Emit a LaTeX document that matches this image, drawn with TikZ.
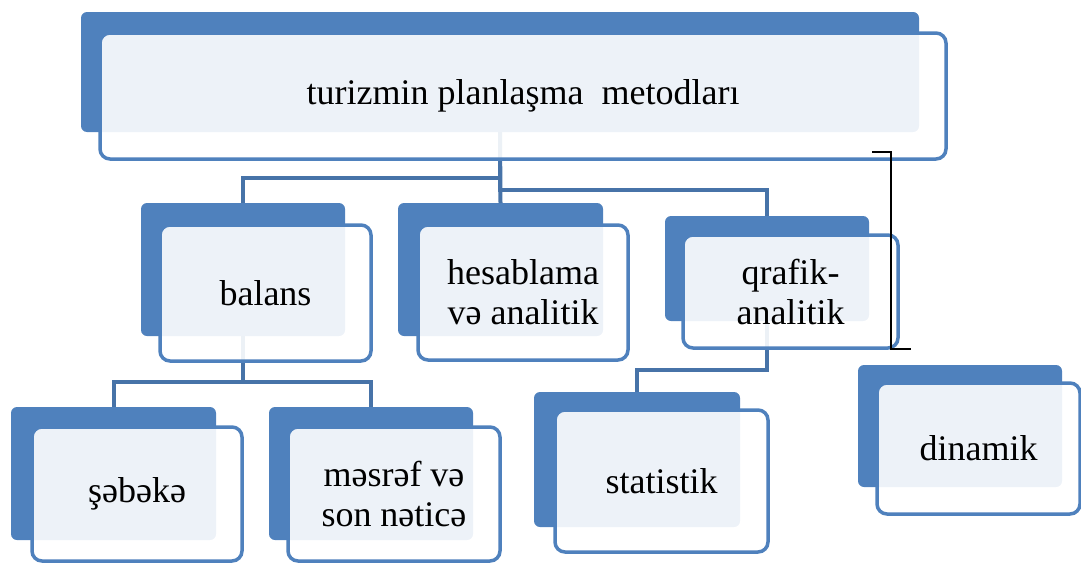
\documentclass[tikz,border=0pt]{standalone}
\usepackage{fontspec}
\setmainfont{Liberation Serif}
\definecolor{accblue}{HTML}{4F81BD}
\definecolor{connblue}{HTML}{4773A8}
\tikzset{
  backbox/.style={rectangle, rounded corners=6pt, fill=accblue, draw=none, inner sep=0pt, outer sep=0pt},
  frontbox/.style={rectangle, rounded corners=10pt, draw=accblue, line width=3.5pt, fill=white, fill opacity=0.9, text opacity=1, inner sep=0pt, outer sep=0pt, align=center, font=\fontsize{36}{40}\selectfont},
  conn/.style={draw=connblue, line width=4pt},
  brk/.style={draw=black, line width=1.5pt}
}
\begin{document}
\begin{tikzpicture}[x=1pt,y=-1pt]
\useasboundingbox (0,0) rectangle (1081,562);
% back rectangles
\node[backbox, minimum width=838pt, minimum height=120pt] (b0) at (500,72) {};
\node[backbox, minimum width=204pt, minimum height=133pt] (b1) at (243,269.5) {};
\node[backbox, minimum width=205pt, minimum height=133pt] (b2) at (500.5,269.5) {};
\node[backbox, minimum width=204pt, minimum height=105pt] (b3) at (767,268.5) {};
\node[backbox, minimum width=205pt, minimum height=133pt] (b4) at (113.5,473.5) {};
\node[backbox, minimum width=204pt, minimum height=133pt] (b5) at (371,473.5) {};
\node[backbox, minimum width=206pt, minimum height=135pt] (b6) at (637,459.5) {};
\node[backbox, minimum width=204pt, minimum height=122pt] (b7) at (960,426) {};
% connectors
\draw[conn] (b0.south) -- (b2.north);
\draw[conn] (b0.south) -- ++(0,46) -| (b1.north);
\draw[conn] (b0.south) -- ++(0,58) -| (b3.north);
\draw[conn] (b1.south) -- ++(0,46) -| (b4.north);
\draw[conn] (b1.south) -- ++(0,46) -| (b5.north);
\draw[conn] (b3.south) -- ++(0,49) -| (b6.north);
% front rectangles with text
\node[frontbox, minimum width=846pt, minimum height=126pt] (f0) at (523,96) {turizmin planlaşma\ \ metodları};
\node[frontbox, minimum width=211pt, minimum height=136pt] (f1) at (265.5,293) {balans};
\node[frontbox, minimum width=210pt, minimum height=135pt] (f2) at (523,292.5) {hesablama\\və analitik};
\node[frontbox, minimum width=215pt, minimum height=113pt] (f3) at (790.5,291.5) {qrafik-\\analitik};
\node[frontbox, minimum width=210pt, minimum height=134pt] (f4) at (137,494) {şəbəkə};
\node[frontbox, minimum width=212pt, minimum height=134pt] (f5) at (394,494) {məsrəf və\\son nəticə};
\node[frontbox, minimum width=213pt, minimum height=142pt] (f6) at (661.5,481) {statistik};
\node[frontbox, minimum width=203pt, minimum height=131pt] (f7) at (978.5,448.5) {dinamik};
% bracket
\coordinate (k1) at (872,152);
\coordinate (k2) at (891,152);
\coordinate (k3) at (891,349);
\coordinate (k4) at (911,349);
\draw[brk] (k1) -- (k2) -- (k3) -- (k4);
\end{tikzpicture}
\end{document}
